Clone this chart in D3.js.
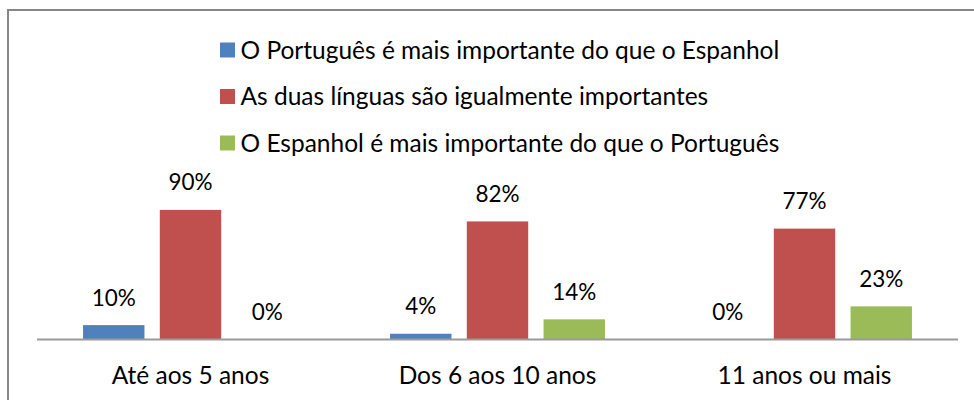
<!DOCTYPE html>
<html>
<head>
<meta charset="utf-8">
<script src="https://cdn.jsdelivr.net/npm/d3@7"></script>
<style>
  html, body { margin: 0; padding: 0; background: #fff; }
  svg { display: block; }
  text { font-family: Lato, "Open Sans", sans-serif; fill: #000; }
</style>
</head>
<body>
<svg id="chart" width="974" height="400"></svg>
<script>
const categories = ["Até aos 5 anos", "Dos 6 aos 10 anos", "11 anos ou mais"];
const seriesNames = [
  "O Português é mais importante do que o Espanhol",
  "As duas línguas são igualmente importantes",
  "O Espanhol é mais importante do que o Português"
];
const seriesColors = ["#4F81BD", "#C0504D", "#9BBB59"];
const portuguesMore = [0.10, 0.04, 0.00];
const equallyImportant = [0.90, 0.82, 0.77];
const spanishMore = [0.00, 0.14, 0.23];
const seriesValues = [portuguesMore, equallyImportant, spanishMore];

const svg = d3.select("#chart");

// outer border
svg.append("path")
  .attr("d", "M8,402 L8,10 L980,10")
  .attr("fill", "none")
  .attr("stroke", "#878787")
  .attr("stroke-width", 2);

const plotLeft = 37, plotRight = 958, baseY = 339.5;

const x0 = d3.scaleBand().domain(categories).range([plotLeft, plotRight]).paddingInner(0.3).paddingOuter(0.15);
const x1 = d3.scaleBand().domain(d3.range(seriesNames.length)).range([0, x0.bandwidth()]).paddingInner(0.2);
const y = d3.scaleLinear().domain([0, 1]).range([baseY, baseY - 144]);

const data = [];
categories.forEach((c, ci) => {
  seriesValues.forEach((vals, si) => data.push({ c, si, v: vals[ci] }));
});

const g = svg.append("g");
g.selectAll("rect.bar").data(data).join("rect")
  .attr("class", "bar")
  .attr("x", d => x0(d.c) + x1(d.si))
  .attr("y", d => y(d.v))
  .attr("width", x1.bandwidth())
  .attr("height", d => y(0) - y(d.v))
  .attr("fill", d => seriesColors[d.si]);

g.selectAll("text.lbl").data(data).join("text")
  .attr("class", "lbl")
  .attr("x", d => x0(d.c) + x1(d.si) + x1.bandwidth() / 2)
  .attr("y", d => y(d.v) - 19.5)
  .attr("text-anchor", "middle")
  .attr("font-size", 22.5)
  .text(d => Math.round(d.v * 100) + "%");

// x axis
const xAxis = svg.append("g")
  .attr("transform", `translate(0,${baseY})`)
  .call(d3.axisBottom(x0).tickSize(0).tickPadding(0));
xAxis.select(".domain").attr("stroke", "#9a9a9a").attr("stroke-width", 2)
  .attr("d", `M${plotLeft},0H${plotRight}`);
xAxis.selectAll(".tick text")
  .attr("font-family", "Lato, 'Open Sans', sans-serif")
  .attr("font-size", 24.5)
  .attr("fill", "#000")
  .attr("dy", 0)
  .attr("y", 44);

// legend
const legend = svg.append("g");
seriesNames.forEach((name, i) => {
  const cy = 50 + i * 46.5;
  legend.append("rect")
    .attr("x", 220).attr("y", cy - 7.5)
    .attr("width", 15).attr("height", 15)
    .attr("fill", seriesColors[i]);
  legend.append("text")
    .attr("x", 240.5).attr("y", cy + 8.5)
    .attr("font-size", 24.5)
    .text(name);
});
</script>
</body>
</html>
